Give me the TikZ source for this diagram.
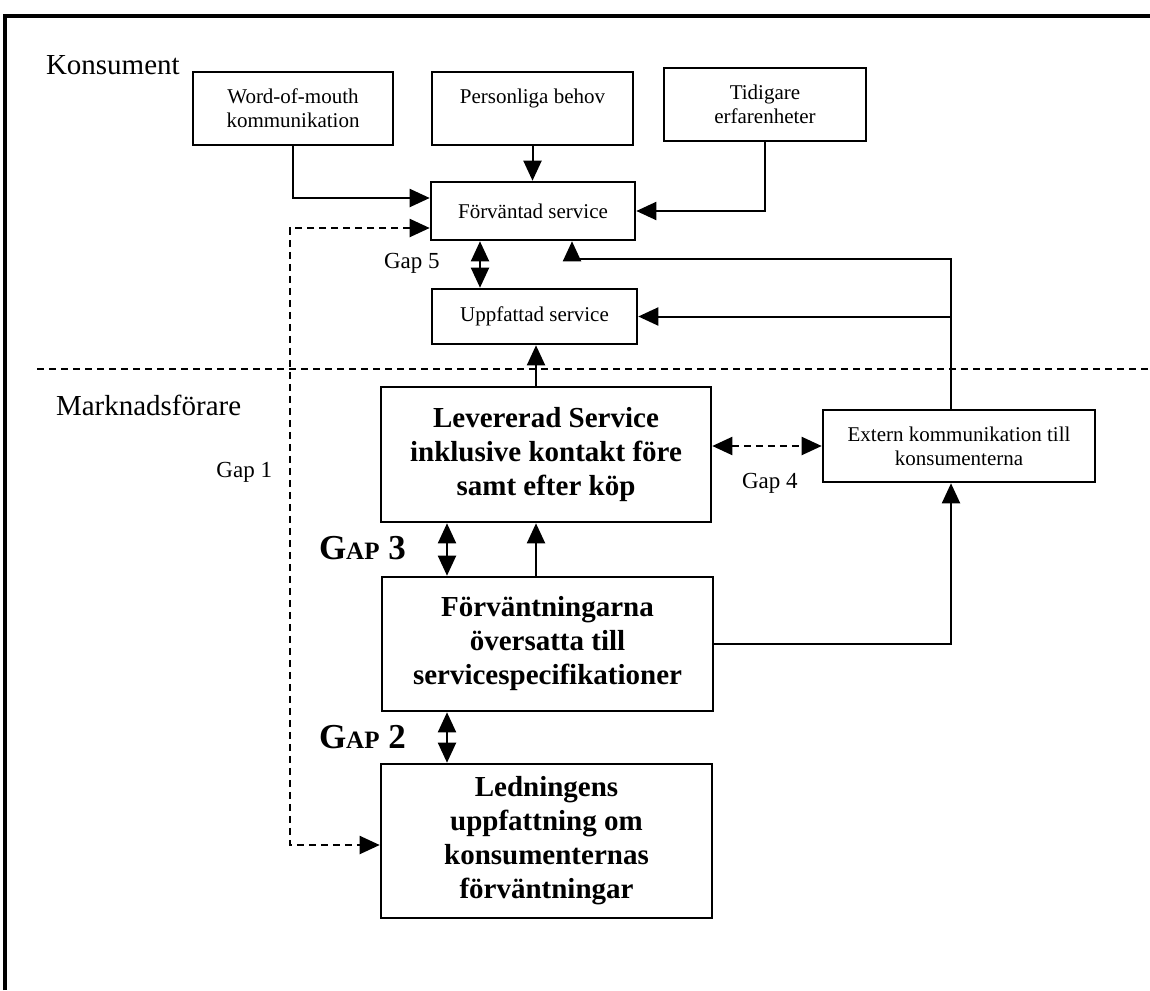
\documentclass[tikz,border=0pt]{standalone}
\usepackage{fontspec}
\setmainfont{Liberation Serif}
\usetikzlibrary{arrows.meta,calc}

\begin{document}
\begin{tikzpicture}[x=0.5pt,y=-0.5pt,line width=1pt,
        every node/.style={font=\fontsize{10.5}{12}\selectfont},
        box/.style={draw, line width=1.3pt, align=center, inner sep=2pt},
        bigbox/.style={box, font=\fontsize{14.5}{17}\selectfont\bfseries},
        gaplbl/.style={inner sep=0pt, font=\fontsize{11.5}{13}\selectfont},
        sidelbl/.style={inner sep=0pt, font=\fontsize{14.5}{17}\selectfont},
        biggap/.style={inner sep=0pt, font=\fontsize{17.5}{20}\selectfont\bfseries},
        gapdash/.style={dash pattern=on 3.5pt off 2.5pt},
        >={Triangle[length=10pt,width=9pt]}]
        \useasboundingbox (0,0) rectangle (1150,990);
        \draw[line width=2pt] (5,990) -- (5,16) -- (1150,16);
        \draw[gapdash] (37,369) -- (1150,369);
        \node[sidelbl, anchor=base west] (kons) at (45,75) {Konsument};
        \node[sidelbl, anchor=base west] (mark) at (55,415) {Marknadsförare};
        \node[box, minimum width=100pt, minimum height=36.5pt] (wom) at (293,108.5) {Word-of-mouth\\kommunikation};
        \node[box, minimum width=100.5pt, minimum height=36.5pt] (pers) at (532.5,108.5) {Personliga behov\\\mbox{}};
        \node[box, minimum width=101pt, minimum height=36.5pt] (tid) at (765,104.5) {Tidigare\\erfarenheter};
        \node[box, minimum width=102pt, minimum height=29pt] (forv) at (533,211) {Förväntad service};
        \node[box, minimum width=102.5pt, minimum height=27.5pt] (upp) at (534.5,316.5) {Uppfattad service};
        \node[bigbox, minimum width=165pt, minimum height=67.5pt] (lev) at (546,454.5) {Levererad Service\\inklusive kontakt före\\samt efter köp};
        \node[box, minimum width=136pt, minimum height=36pt] (ext) at (959,446) {Extern kommunikation till\\konsumenterna};
        \node[bigbox, minimum width=165.5pt, minimum height=67pt] (spec) at (547.5,644) {Förväntningarna\\översatta till\\servicespecifikationer};
        \node[bigbox, minimum width=165.5pt, minimum height=77pt] (led) at (546.5,841) {Ledningens\\uppfattning om\\konsumenternas\\förväntningar};
        \node[gaplbl, anchor=base west] (gapfive) at (383,268) {Gap 5};
        \node[gaplbl, anchor=base west] (gapfour) at (741,488) {Gap 4};
        \node[gaplbl, anchor=base east] (gapone) at (273,477) {Gap 1};
        \node[biggap, anchor=base west] (gapthree) at (318,559) {G{\fontsize{12.5}{14}\selectfont AP} 3};
        \node[biggap, anchor=base west] (gaptwo) at (318,748) {G{\fontsize{12.5}{14}\selectfont AP} 2};
        \coordinate (gone) at (290,0);
        \coordinate (gfive) at (480,0);
        \coordinate (gthree) at (447,0);
        \coordinate (mid) at (536,0);
        \coordinate (rside) at (951,0);
        \coordinate (feed) at (572,259);
        \coordinate (dtop) at ($(forv.west)+(0,17)$);
        \coordinate (dbot) at ($(led.west)+(0,4)$);
        \draw[->] (wom.south) |- ($(forv.west)+(0,-13)$);
        \draw[->] (pers.south) -- (pers.south |- forv.north);
        \draw[->] (tid.south) |- (forv.east);
        \draw[gapdash,<->] (dtop) -- (dtop -| gone) -- (dbot -| gone) -- (dbot);
        \draw[<->] (forv.south -| gfive) -- (upp.north -| gfive);
        \draw[->] (ext.north -| rside) |- (feed) -- (feed |- forv.south);
        \draw[->] (rside |- upp.east) -- (upp.east);
        \draw[->] (lev.north -| mid) -- (upp.south -| mid);
        \draw[gapdash,<->] (lev.east |- ext.west) -- (ext.west);
        \draw[<->] (lev.south -| gthree) -- (spec.north -| gthree);
        \draw[->] (spec.north -| mid) -- (lev.south -| mid);
        \draw[->] (spec.east) -| (ext.south -| rside);
        \draw[<->] (spec.south -| gthree) -- (led.north -| gthree);
\end{tikzpicture}
\end{document}
